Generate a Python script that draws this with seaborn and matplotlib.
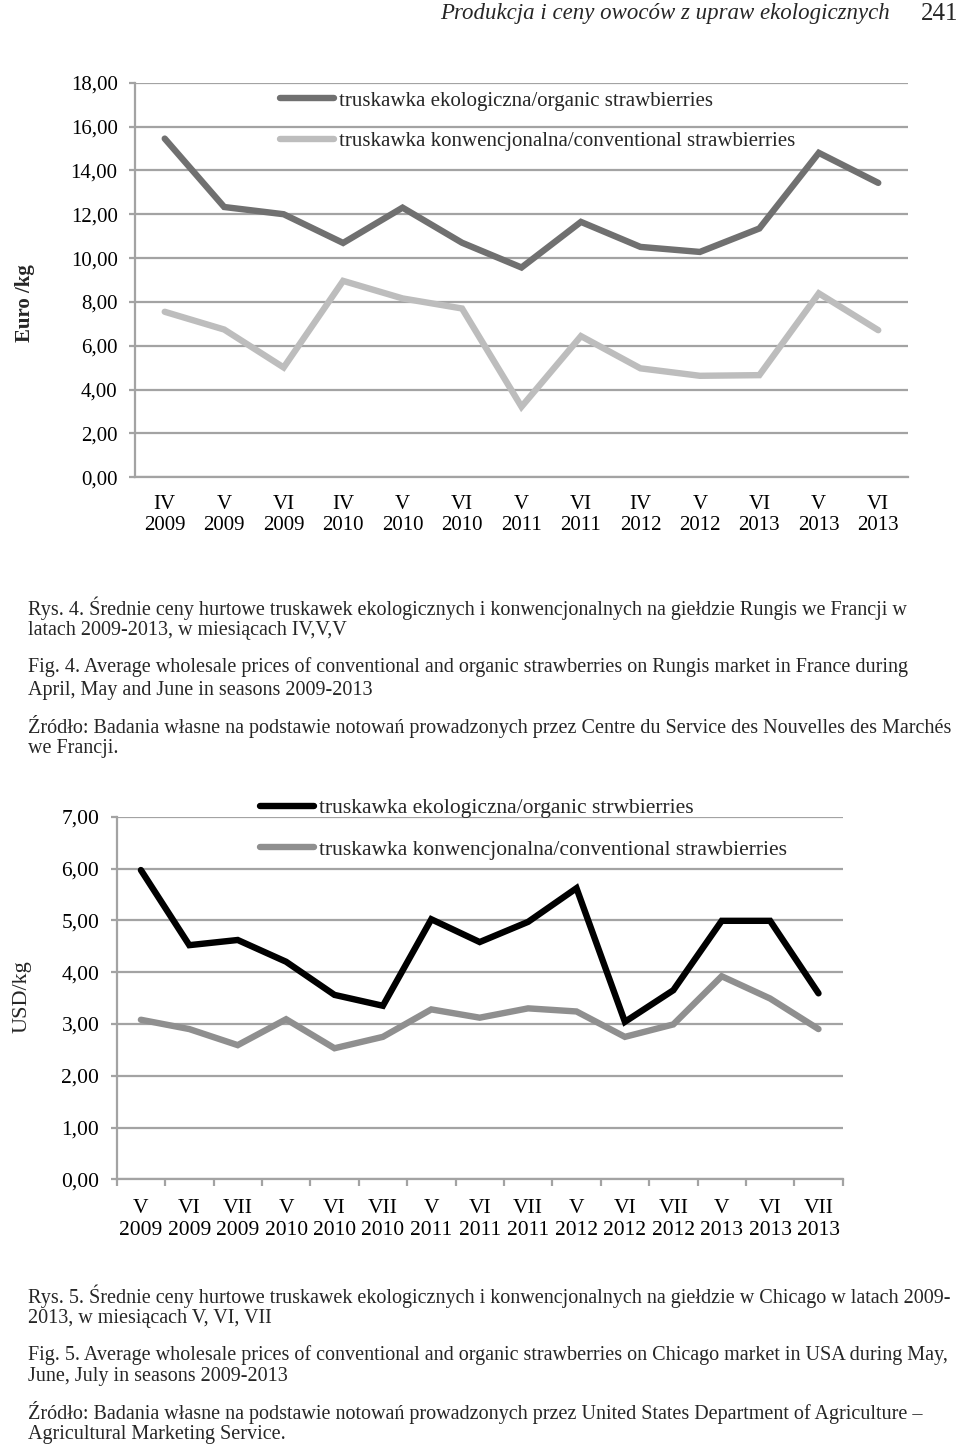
import numpy as np
import pandas as pd
import seaborn as sns
import matplotlib.pyplot as plt
from matplotlib.ticker import FuncFormatter, FixedLocator


# Rys. 4 - Rungis, Euro/kg
labels1 = ['IV\n2009', 'V\n2009', 'VI\n2009', 'IV\n2010', 'V\n2010', 'VI\n2010', 'V\n2011',
           'VI\n2011', 'IV\n2012', 'V\n2012', 'VI\n2013', 'V\n2013', 'VI\n2013']
organic1 = [15.45, 12.33, 12.0, 10.69, 12.3, 10.7, 9.57, 11.65, 10.51, 10.28, 11.35, 14.8, 13.43]
conventional1 = [7.55, 6.74, 5.01, 8.96, 8.16, 7.70, 3.22, 6.44, 4.97, 4.63, 4.66, 8.39, 6.71]
names1 = ['truskawka ekologiczna/organic strawbierries',
          'truskawka konwencjonalna/conventional strawbierries']

# Rys. 5 - Chicago, USD/kg
labels2 = ['V\n2009', 'VI\n2009', 'VII\n2009', 'V\n2010', 'VI\n2010', 'VII\n2010', 'V\n2011',
           'VI\n2011', 'VII\n2011', 'V\n2012', 'VI\n2012', 'VII\n2012', 'V\n2013', 'VI\n2013', 'VII\n2013']
organic2 = [5.97, 4.52, 4.62, 4.20, 3.56, 3.35, 5.02, 4.58, 4.97, 5.62, 3.04, 3.65, 4.99, 4.99, 3.59]
conventional2 = [3.08, 2.90, 2.59, 3.09, 2.53, 2.75, 3.28, 3.12, 3.30, 3.24, 2.75, 2.99, 3.92, 3.49, 2.90]
names2 = ['truskawka ekologiczna/organic strwbierries',
          'truskawka konwencjonalna/conventional strawbierries']

captions1 = [
    'Rys. 4. Średnie ceny hurtowe truskawek ekologicznych i konwencjonalnych na giełdzie Rungis we Francji w',
    'latach 2009-2013, w miesiącach IV,V,V',
    'Fig. 4. Average wholesale prices of conventional and organic strawberries on Rungis market in France during',
    'April, May and June in seasons 2009-2013',
    'Źródło: Badania własne na podstawie notowań prowadzonych przez Centre du Service des Nouvelles des Marchés',
    'we Francji.',
]
captions2 = [
    'Rys. 5. Średnie ceny hurtowe truskawek ekologicznych i konwencjonalnych na giełdzie w Chicago w latach 2009-',
    '2013, w miesiącach V, VI, VII',
    'Fig. 5. Average wholesale prices of conventional and organic strawberries on Chicago market in USA during May,',
    'June, July in seasons 2009-2013',
    'Źródło: Badania własne na podstawie notowań prowadzonych przez United States Department of Agriculture –',
    'Agricultural Marketing Service.',
]

sns.set_style('white')
plt.rcParams['font.family'] = ['Liberation Serif', 'DejaVu Serif']

W, H = 960, 1450
fig = plt.figure(figsize=(W / 100, H / 100), dpi=100)


def px_axes(left, top, right, bottom):
    return fig.add_axes([left / W, 1 - bottom / H, (right - left) / W, (bottom - top) / H])


def comma(v, pos):
    return f'{v:.2f}'.replace('.', ',')


def draw(ax, labels, org, conv, names, colors, ymax, ystep, fs, leg_anchor, handlelen, legspace, xticks):
    n = len(labels)
    df = pd.DataFrame({
        'x': list(range(n)) * 2,
        'price': org + conv,
        'series': [names[0]] * n + [names[1]] * n,
    })
    sns.lineplot(data=df, x='x', y='price', hue='series', palette=dict(zip(names, colors)),
                 linewidth=4.6, ax=ax, legend=True, zorder=3)
    for l in ax.get_lines():
        l.set_solid_capstyle('round')
        l.set_solid_joinstyle('miter')
    ax.set_xlim(-0.5, n - 0.5)
    ax.set_ylim(0, ymax)
    ax.set_yticks(np.arange(0, ymax + 0.01, ystep))
    ax.yaxis.set_major_formatter(FuncFormatter(comma))
    ax.set_xticks(range(n))
    ax.set_xticklabels(labels, linespacing=1.2)
    ax.grid(axis='y', color='#a3a3a3', linewidth=1.6, zorder=0)
    for s in ['top', 'right']:
        ax.spines[s].set_visible(False)
    for s in ['left', 'bottom']:
        ax.spines[s].set_color('#a3a3a3')
        ax.spines[s].set_linewidth(1.6)
    ax.tick_params(axis='y', left=True, length=4.5, width=1.6, color='#a3a3a3', pad=8,
                   labelsize=fs, labelcolor='black')
    ax.tick_params(axis='x', bottom=False, pad=9, labelsize=fs, labelcolor='black')
    if xticks:
        ax.xaxis.set_minor_locator(FixedLocator(np.arange(-0.5, n, 1.0)))
        ax.tick_params(axis='x', which='minor', bottom=True, length=5, width=1.6, color='#a3a3a3')
        ax.tick_params(axis='x', which='major', pad=11)
    ax.set_xlabel('')
    ax.set_ylabel('')
    ax.legend(title=None, frameon=False, loc='upper left', bbox_to_anchor=leg_anchor,
              bbox_transform=fig.transFigure, fontsize=fs, handlelength=handlelen,
              handletextpad=0.25, labelspacing=legspace, borderpad=0, borderaxespad=0)


ax1 = px_axes(135, 82.7, 908, 477.3)
draw(ax1, labels1, organic1, conventional1, names1, ['#707070', '#bdbdbd'], 18, 2, 15,
     (280 / W, 1 - 91 / H), 2.6, 1.0, False)
fig.text(25 / W, 1 - 303 / H, 'Euro /kg', rotation=90, ha='center', va='center',
         fontsize=15, fontweight='bold')

ax2 = px_axes(116.7, 816.7, 842.7, 1179.3)
draw(ax2, labels2, organic2, conventional2, names2, ['#000000', '#8f8f8f'], 7, 1, 15.5,
     (260 / W, 1 - 798 / H), 2.5, 1.0, True)
fig.text(22 / W, 1 - 997 / H, 'USD/kg', rotation=90, ha='center', va='center', fontsize=16)

# page header
fig.text(890 / W, 1 - 14 / H, 'Produkcja i ceny owoców z upraw ekologicznych', ha='right',
         va='center', fontsize=16.5, style='italic')
fig.text(958 / W, 1 - 14 / H, '241', ha='right', va='center', fontsize=18)

for ys, lines in [([608, 631, 667, 690, 726, 748], captions1),
                  ([1296, 1319, 1355, 1377, 1412, 1435], captions2)]:
    for y, t in zip(ys, lines):
        fig.text(28 / W, 1 - y / H, t, ha='left', va='center', fontsize=14.5)

fig.savefig('out.png', dpi=100)
